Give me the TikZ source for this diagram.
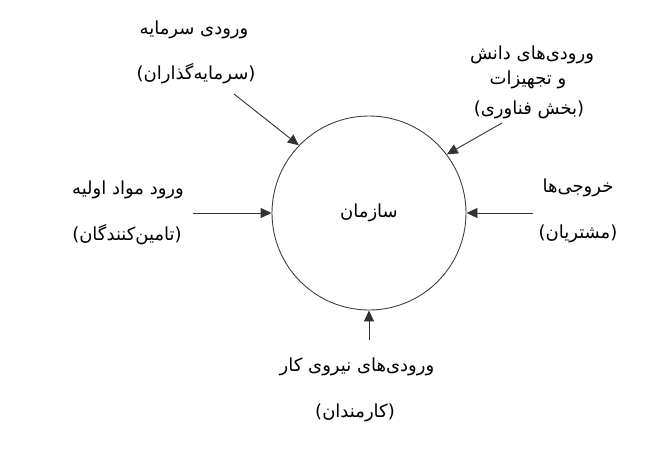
\documentclass[tikz,border=0pt]{standalone}
\usepackage{fontspec}
\usepackage{tikz}
\usetikzlibrary{arrows,arrows.meta,shapes}
\TeXXeTstate=1
\newfontfamily\arabicfont[Script=Arabic]{DejaVu Sans}
\newcommand{\fa}[1]{{\arabicfont\beginR #1\endR}}

\begin{document}
\begin{tikzpicture}[x=1pt,y=-1pt,
    every node/.style={font=\fontsize{18}{21}\selectfont, text=black},
    inflow/.style={draw=black!80, line width=0.9pt, -{Triangle[length=11pt,width=10pt]}}]
        \useasboundingbox (0,0) rectangle (659,452);
        \node[circle, draw=black!75, line width=0.9pt, minimum size=194pt] (org) at (369,213) {\fa{سازمان}};
        % inputs round the circle
        \coordinate (capital) at (234,94);
        \coordinate (tech) at (502,123);
        \coordinate (material) at (193,213);
        \coordinate (output) at (533,213);
        \coordinate (labour) at (369,340);
        \draw[inflow] (capital) -- (org.136);
        \draw[inflow] (tech) -- (org.37);
        \draw[inflow] (material) -- (org.west);
        \draw[inflow] (output) -- (org.east);
        \draw[inflow] (labour) -- (org.south);
        % labels
        \node (capitalA) at (194,30) {\fa{ورودی سرمایه}};
        \node (capitalB) at (196,74) {\fa{(سرمایه‌گذاران)}};
        \node (techA) at (532,55) {\fa{ورودی‌های دانش}};
        \node (techB) at (528,80) {\fa{و تجهیزات}};
        \node (techC) at (529,110) {\fa{(بخش فناوری)}};
        \node (materialA) at (128,190) {\fa{ورود مواد اولیه}};
        \node (materialB) at (127,235) {\fa{(تامین‌کنندگان)}};
        \node (outputA) at (578,188) {\fa{خروجی‌ها}};
        \node (outputB) at (578,234) {\fa{(مشتریان)}};
        \node (labourA) at (357,367) {\fa{ورودی‌های نیروی کار}};
        \node (labourB) at (355,413) {\fa{(کارمندان)}};
    \end{tikzpicture}
\end{document}
